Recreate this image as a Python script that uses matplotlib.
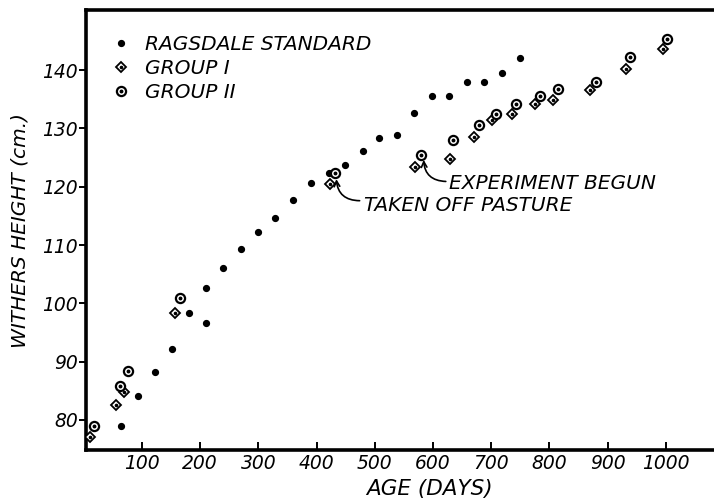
import matplotlib
matplotlib.use("Agg")
import matplotlib.pyplot as plt
from matplotlib.lines import Line2D

# --- data ---
rag_age = [64, 93, 123, 152, 181, 210, 210, 239, 270, 299, 329, 360, 390, 421,
           449, 479, 508, 538, 568, 598, 628, 658, 688, 718, 749]
rag_height = [78.9, 84.1, 88.2, 92.2, 98.3, 96.7, 102.6, 106.1, 109.3, 112.3, 114.6,
              117.7, 120.7, 122.4, 123.8, 126.2, 128.4, 128.8, 132.6, 135.6, 135.6,
              138.0, 137.9, 139.5, 142.0]

g1_age = [11, 55, 69, 157, 423, 569, 629, 671, 701, 735, 776, 806, 870, 931, 995]
g1_height = [77.1, 82.5, 84.8, 98.4, 120.5, 123.4, 124.8, 128.6, 131.5, 132.5,
             134.2, 134.8, 136.5, 140.1, 143.6]

g2_age = [17, 63, 77, 166, 432, 579, 635, 679, 708, 743, 784, 814, 880, 938, 1002]
g2_height = [79.0, 85.9, 88.4, 101.0, 122.3, 125.5, 128.0, 130.5, 132.5, 134.2,
             135.6, 136.7, 137.9, 142.3, 145.4]

x_ticks = [100, 200, 300, 400, 500, 600, 700, 800, 900, 1000]
y_ticks = [80, 90, 100, 110, 120, 130, 140]

legend_labels = ["RAGSDALE STANDARD", "GROUP I", "GROUP II"]

plt.rcParams['font.family'] = ['DejaVu Sans']
plt.rcParams['font.style'] = 'italic'

fig = plt.figure(figsize=(7.14, 5.03), dpi=100)
ax = fig.add_axes([86/714, 53/503, 1 - 86/714 + 0.01, 440/503])

ax.set_xlim(4, 1095)
ax.set_ylim(74.85, 150.3)

# Ragsdale standard
ax.plot(rag_age, rag_height, linestyle='none', marker='o', ms=4.2,
        mfc='black', mec='black', zorder=3)
# Group I diamonds with centre dot
ax.plot(g1_age, g1_height, linestyle='none', marker='D', ms=5.2,
        mfc='white', mec='black', mew=1.3, zorder=3)
ax.plot(g1_age, g1_height, linestyle='none', marker='o', ms=1.6,
        mfc='black', mec='black', zorder=4)
# Group II circles with centre dot
ax.plot(g2_age, g2_height, linestyle='none', marker='o', ms=6.6,
        mfc='white', mec='black', mew=1.6, zorder=3)
ax.plot(g2_age, g2_height, linestyle='none', marker='o', ms=1.8,
        mfc='black', mec='black', zorder=4)

# spines
for s in ['left', 'bottom', 'top']:
    ax.spines[s].set_linewidth(2.6)
ax.spines['right'].set_visible(False)

ax.set_xticks(x_ticks)
ax.set_yticks(y_ticks)
ax.tick_params(axis='x', direction='in', length=6, width=1.4, labelsize=13.5, pad=3)
ax.tick_params(axis='y', direction='out', length=5, width=1.4, labelsize=13.5, pad=1)

ax.set_xlabel("AGE (DAYS)", fontsize=15.5, labelpad=0)
ax.xaxis.set_label_coords((429 - 86) / (714 * ax.get_position().width), -0.065)
ax.set_ylabel("WITHERS HEIGHT (cm.)", fontsize=14.5, labelpad=9)

# legend
h_rag = Line2D([], [], linestyle='none', marker='o', ms=4.2, mfc='black', mec='black')
h_g1 = (Line2D([], [], linestyle='none', marker='D', ms=5.2, mfc='white', mec='black', mew=1.3),
        Line2D([], [], linestyle='none', marker='o', ms=1.6, mfc='black', mec='black'))
h_g2 = (Line2D([], [], linestyle='none', marker='o', ms=6.6, mfc='white', mec='black', mew=1.6),
        Line2D([], [], linestyle='none', marker='o', ms=1.8, mfc='black', mec='black'))
ax.legend([h_rag, h_g1, h_g2], legend_labels, loc='upper left', frameon=False,
          fontsize=14.5, handlelength=1.0, handletextpad=0.7, labelspacing=0.25,
          borderaxespad=0.0, bbox_to_anchor=(0.027, 0.962))

# annotations: text and separate curved arrows
ax.text(481, 116.8, "TAKEN OFF PASTURE", fontsize=14.5, ha='left', va='center')
ax.annotate("", xy=(434, 121.3), xytext=(474, 117.6),
            arrowprops=dict(arrowstyle='->', lw=1.2, color='black',
                            connectionstyle='arc3,rad=-0.45', shrinkA=0, shrinkB=0))
ax.text(627, 120.6, "EXPERIMENT BEGUN", fontsize=14.5, ha='left', va='center')
ax.annotate("", xy=(584, 124.6), xytext=(622, 120.9),
            arrowprops=dict(arrowstyle='->', lw=1.2, color='black',
                            connectionstyle='arc3,rad=-0.45', shrinkA=0, shrinkB=0))

fig.savefig("out.png", dpi=100)
